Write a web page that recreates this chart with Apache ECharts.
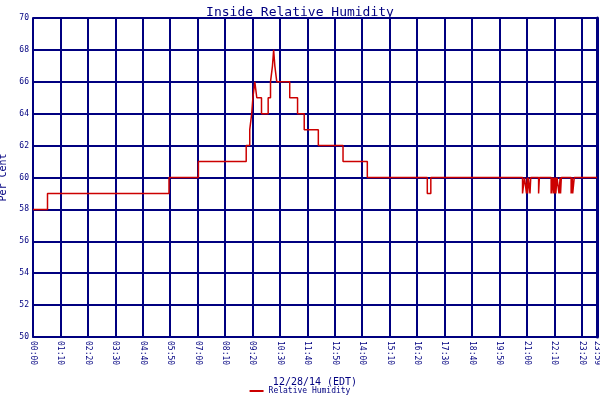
<!DOCTYPE html>
<html><head><meta charset="utf-8">
<script src="https://cdn.jsdelivr.net/npm/echarts@6/dist/echarts.min.js"></script>
<style>html,body{margin:0;padding:0;background:#fff}#c{width:600px;height:400px}</style>
</head><body><div id="c"></div>
<script>
const titleText = "Inside Relative Humidity";
const xName = "12/28/14 (EDT)";
const yName = "Per Cent";
const seriesName = "Relative Humidity";
// change points [minute of day, value]; value holds until next point
const humidity = [
 [0,58],[37,59],[347,60],[422,61],[544,62],[548,62],[553,63],[558,64],[561,65],[566,66],
 [571,65],[583,64],[600,65],[606,66],[611,67],[614,68],[617,67],[622,66],[655,65],[675,64],
 [692,63],[728,62],[791,61],[853,60],[1006,59],[1015,60],
 [1249,59],[1254,60],[1259,59],[1261,60],[1262,59],[1264,60],[1268,59],[1270,60],[1290,59],[1292,60],
 [1322,59],[1326,60],[1327,59],[1330,60],[1331,59],[1333,60],[1334,59],[1337,60],
 [1342,59],[1345,60],[1346,59],[1348,60],[1373,59],[1376,60],[1377,59],[1381,60],[1439,60]
];
const navy = "#000080";
const font = "DejaVu Sans Mono";
function fmt(v){const h=Math.floor(v/60),m=Math.round(v%60);return String(h).padStart(2,'0')+':'+String(m).padStart(2,'0');}
const chart = echarts.init(document.getElementById('c'));
chart.setOption({
 animation:false,
 title:{text:titleText,left:'center',top:1,textStyle:{color:navy,fontFamily:font,fontWeight:'normal',fontSize:13}},
 grid:{left:33,right:3,top:18,bottom:63,containLabel:false,outerBoundsMode:'none',show:true,borderColor:navy,borderWidth:1},
 legend:{bottom:0,left:'center',itemWidth:14,itemHeight:2,icon:'rect',textStyle:{color:navy,fontFamily:font,fontSize:8}},
 xAxis:{type:'value',min:0,max:1439,interval:70,name:xName,nameLocation:'middle',nameGap:40,
  nameTextStyle:{color:navy,fontFamily:font,fontSize:10},
  axisLine:{lineStyle:{color:navy}},axisTick:{show:false},
  axisLabel:{rotate:-90,color:navy,fontFamily:font,fontSize:8,formatter:fmt,showMaxLabel:true,margin:4},
  splitLine:{show:true,lineStyle:{color:navy,width:2}}},
 yAxis:[{type:'value',min:50,max:70,interval:2,name:yName,nameLocation:'middle',nameGap:22,
  nameTextStyle:{color:navy,fontFamily:font,fontSize:10},
  axisLine:{show:true,lineStyle:{color:navy,width:2}},axisTick:{show:false},
  axisLabel:{color:navy,fontFamily:font,fontSize:8,margin:4},
  splitLine:{show:true,lineStyle:{color:navy,width:2}}},
  {type:'value',min:50,max:70,interval:2,position:'right',axisLine:{show:true,lineStyle:{color:navy,width:3}},axisLabel:{show:false},axisTick:{show:false},splitLine:{show:false}}],
 series:[{name:seriesName,type:'line',step:'end',data:humidity,showSymbol:false,
  lineStyle:{color:'#cc0000',width:1.5},itemStyle:{color:'#cc0000'}}]
});
</script></body></html>
